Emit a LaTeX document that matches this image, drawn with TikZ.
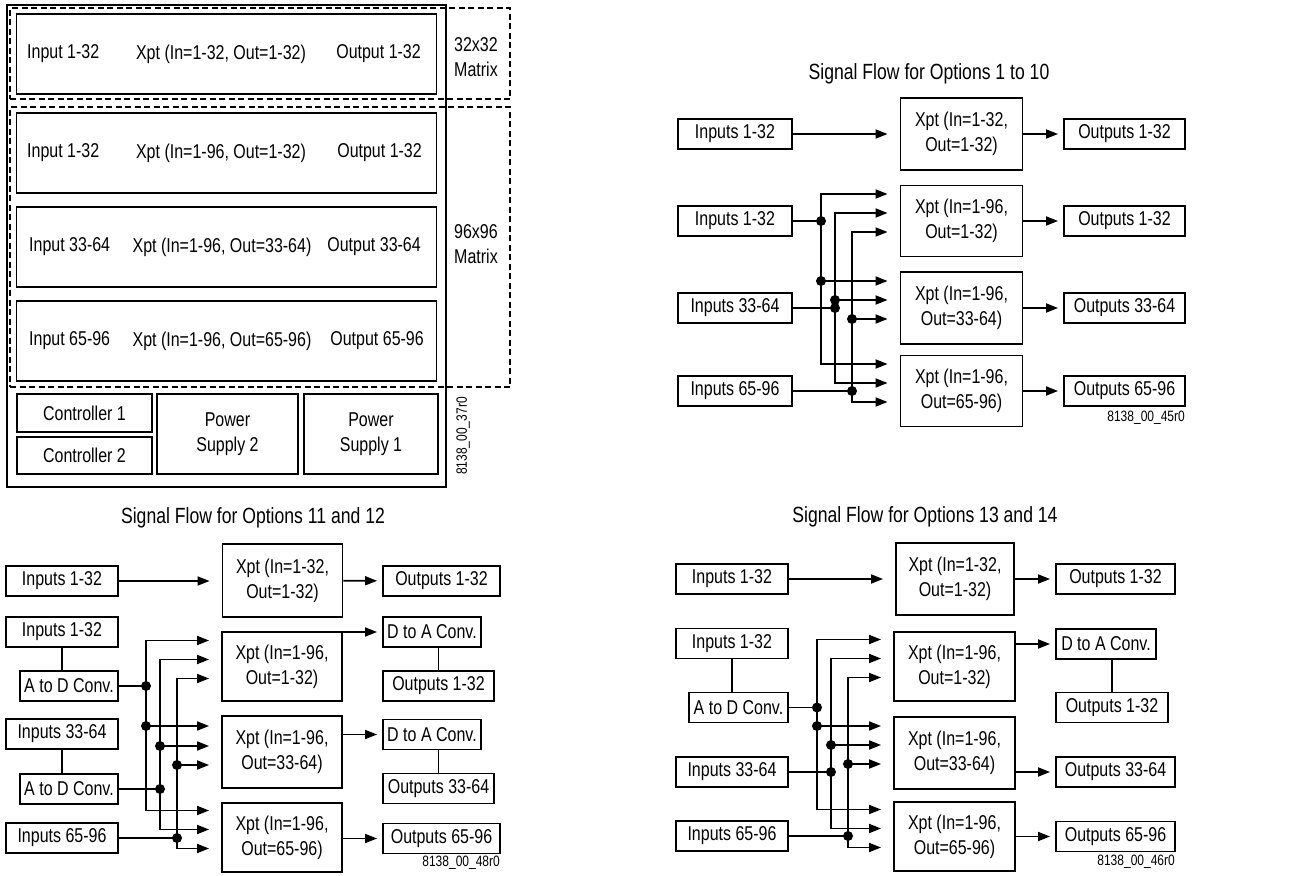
\documentclass[tikz,border=0pt]{standalone}
\usepackage{fontspec}
\setmainfont{Liberation Sans}[FakeStretch=0.8]
\usetikzlibrary{arrows.meta,positioning,calc}
\newcommand{\boxfont}{\fontsize{20}{25}\selectfont}
\newcommand{\headfont}{\fontsize{22}{26}\selectfont}
\newcommand{\tagfont}{\fontsize{15}{18}\selectfont}

\begin{document}
\begin{tikzpicture}[
    x=1pt, y=-1pt,
    box/.style={rectangle, draw, line width=1.9pt, inner sep=0pt, align=center, font=\boxfont},
    card/.style={box, minimum width=420pt, minimum height=80pt},
    inbox/.style={box, minimum width=113pt, minimum height=30pt},
    xbox/.style={box, minimum width=120pt, minimum height=71pt},
    outbox/.style={box, minimum width=119pt, minimum height=30pt},
    convbox/.style={box, minimum width=98pt, minimum height=30pt},
    zone/.style={rectangle, draw, line width=1.7pt, dash pattern=on 6pt off 3.5pt},
    txt/.style={font=\boxfont, inner sep=0pt, align=center},
    heading/.style={font=\headfont, inner sep=0pt},
    idtag/.style={font=\tagfont, inner sep=0pt},
    wire/.style={line width=1.8pt},
    feed/.style={line width=1.4pt},
    arrow/.style={wire, -{Triangle[length=12pt, width=9pt]}},
    tap/.style={arrow, shorten >=12pt},
    toout/.style={arrow, shorten >=5pt},
    jdot/.style={circle, fill, inner sep=0pt, minimum size=10pt}
]
\useasboundingbox (0,0) rectangle (1294,876);

% frame layout
\node[box, minimum width=439pt, minimum height=482pt] (chassis) at (226.5,246) {};
\node[zone, minimum width=500pt, minimum height=91pt] (zone32) at (260,53.5) {};
\node[zone, minimum width=500pt, minimum height=280pt] (zone96) at (260,247) {};
\node[card] (card1) at (226.5,54) {};
\node[card] (card2) at (226.5,153) {};
\node[card] (card3) at (226.5,247) {};
\node[card] (card4) at (226.5,341) {};
\node[txt, anchor=west] (card1in) at (27,54) {Input 1-32};
\node[txt] (card1x) at (221,54) {Xpt (In=1-32, Out=1-32)};
\node[txt, anchor=east] (card1out) at (421,54) {Output 1-32};
\node[txt, anchor=west] (card2in) at (27,153) {Input 1-32};
\node[txt] (card2x) at (221,153) {Xpt (In=1-96, Out=1-32)};
\node[txt, anchor=east] (card2out) at (422,153) {Output 1-32};
\node[txt, anchor=west] (card3in) at (29,247) {Input 33-64};
\node[txt] (card3x) at (222,247) {Xpt (In=1-96, Out=33-64)};
\node[txt, anchor=east] (card3out) at (421,247) {Output 33-64};
\node[txt, anchor=west] (card4in) at (29,341) {Input 65-96};
\node[txt] (card4x) at (222,341) {Xpt (In=1-96, Out=65-96)};
\node[txt, anchor=east] (card4out) at (424,341) {Output 65-96};
\node[box, minimum width=135pt, minimum height=38pt] (ctrl1) at (84.5,413) {Controller 1};
\node[box, minimum width=135pt, minimum height=37pt] (ctrl2) at (84.5,455.5) {Controller 2};
\node[box, minimum width=141pt, minimum height=80pt] (psu2) at (227.5,434) {Power\\Supply 2};
\node[box, minimum width=134pt, minimum height=80pt] (psu1) at (371,434) {Power\\Supply 1};
\node[txt] (lbl32) at (476,57) {32x32\\Matrix};
\node[txt] (lbl96) at (476,244) {96x96\\Matrix};
\node[idtag, rotate=90] (id37) at (463,436) {8138\_00\_37r0};

% options 1 to 10
\node[heading] (headA) at (929,74) {Signal Flow for Options 1 to 10};
\node[inbox, minimum width=114pt] (inA1) at (735,134) {Inputs 1-32};
\node[inbox, minimum width=114pt] (inA2) at (735,221) {Inputs 1-32};
\node[inbox, minimum width=114pt] (inA3) at (735,308) {Inputs 33-64};
\node[inbox, minimum width=114pt] (inA4) at (735,391) {Inputs 65-96};
\node[xbox, minimum width=122pt, minimum height=72pt] (xA1) at (961.5,134) {Xpt (In=1-32,\\Out=1-32)};
\node[xbox, minimum width=122pt] (xA2) at (961.5,221) {Xpt (In=1-96,\\Out=1-32)};
\node[xbox, minimum width=122pt, minimum height=72pt] (xA3) at (961.5,308) {Xpt (In=1-96,\\Out=33-64)};
\node[xbox, minimum width=122pt] (xA4) at (961.5,391) {Xpt (In=1-96,\\Out=65-96)};
\node[outbox, minimum width=121pt] (outA1) at (1124.5,134) {Outputs 1-32};
\node[outbox, minimum width=121pt] (outA2) at (1124.5,221) {Outputs 1-32};
\node[outbox, minimum width=121pt] (outA3) at (1124.5,308) {Outputs 33-64};
\node[outbox, minimum width=121pt] (outA4) at (1124.5,391) {Outputs 65-96};
\node[idtag, anchor=east] (idA) at (1185,418) {8138\_00\_45r0};
\coordinate (busA1) at (821,0);
\coordinate (busA2) at (835,0);
\coordinate (busA3) at (852,0);
\draw[tap] (inA1.east) -- (xA1.west);
\draw[feed] (inA2.east) -- (inA2 -| busA1);
\draw[feed] (inA3.east) -- (inA3 -| busA2);
\draw[feed] (inA4.east) -- (inA4 -| busA3);
\draw[tap] (inA2 -| busA1) |- ($(xA2.west)+(0,-27)$);
\draw[tap] (inA2 -| busA1) |- ($(xA3.west)+(0,-27)$);
\draw[tap] (inA2 -| busA1) |- ($(xA4.west)+(0,-27)$);
\draw[tap] (inA3 -| busA2) |- ($(xA2.west)+(0,-8)$);
\draw[tap] (inA3 -| busA2) |- ($(xA3.west)+(0,-8)$);
\draw[tap] (inA3 -| busA2) |- ($(xA4.west)+(0,-8)$);
\draw[tap] (inA4 -| busA3) |- ($(xA2.west)+(0,11)$);
\draw[tap] (inA4 -| busA3) |- ($(xA3.west)+(0,11)$);
\draw[tap] (inA4 -| busA3) |- ($(xA4.west)+(0,11)$);
\node[jdot] at (inA2 -| busA1) {};
\node[jdot] at ($(xA3.west -| busA1)+(0,-27)$) {};
\node[jdot] at (inA3 -| busA2) {};
\node[jdot] at ($(xA3.west -| busA2)+(0,-8)$) {};
\node[jdot] at (inA4 -| busA3) {};
\node[jdot] at ($(xA3.west -| busA3)+(0,11)$) {};
\draw[toout] (xA1) -- (outA1);
\draw[toout] (xA2) -- (outA2);
\draw[toout] (xA3) -- (outA3);
\draw[toout] (xA4) -- (outA4);

% options 11 and 12
\node[heading] (headB) at (253,518) {Signal Flow for Options 11 and 12};
\node[inbox, minimum width=112pt] (inB1) at (62,581) {Inputs 1-32};
\node[inbox, minimum width=112pt] (inB2) at (62,632) {Inputs 1-32};
\node[convbox] (adB1) at (69,686) {A to D Conv.};
\node[inbox, minimum width=112pt] (inB3) at (62,734) {Inputs 33-64};
\node[convbox] (adB2) at (69,789) {A to D Conv.};
\node[inbox, minimum width=112pt] (inB4) at (62,838) {Inputs 65-96};
\node[xbox, minimum height=73pt] (xB1) at (282.5,580.5) {Xpt (In=1-32,\\Out=1-32)};
\node[xbox, minimum height=69pt] (xB2) at (282,666.5) {Xpt (In=1-96,\\Out=1-32)};
\node[xbox, minimum height=72pt] (xB3) at (282,752) {Xpt (In=1-96,\\Out=33-64)};
\node[xbox, minimum height=69pt] (xB4) at (282,837.5) {Xpt (In=1-96,\\Out=65-96)};
\node[outbox, minimum width=117pt] (outB1) at (441.5,581) {Outputs 1-32};
\node[convbox] (daB1) at (432,632) {D to A Conv.};
\node[outbox, minimum width=111pt] (outB2) at (438.5,686) {Outputs 1-32};
\node[convbox] (daB2) at (432,734.5) {D to A Conv.};
\node[outbox, minimum width=111pt] (outB3) at (438.5,788.5) {Outputs 33-64};
\node[outbox, minimum width=117pt] (outB4) at (441.5,838.5) {Outputs 65-96};
\node[idtag, anchor=east] (idB) at (500,863) {8138\_00\_48r0};
\coordinate (busB1) at (146,0);
\coordinate (busB2) at (160,0);
\coordinate (busB3) at (177,0);
\draw[wire] (inB2.south) -- (inB2.south |- adB1.north);
\draw[wire] (inB3.south) -- (inB3.south |- adB2.north);
\draw[wire] (outB2.north) -- (outB2.north |- daB1.south);
\draw[wire] (outB3.north) -- (outB3.north |- daB2.south);
\draw[tap] (inB1.east) -- (inB1 -| xB1.west);
\draw[feed] (adB1.east) -- (adB1 -| busB1);
\draw[feed] (adB2.east) -- (adB2 -| busB2);
\draw[feed] (inB4.east) -- (inB4 -| busB3);
\draw[tap] (adB1 -| busB1) |- ($(xB2.west)+(0,-26)$);
\draw[tap] (adB1 -| busB1) |- ($(xB3.west)+(0,-26)$);
\draw[tap] (adB1 -| busB1) |- ($(xB4.west)+(0,-27)$);
\draw[tap] (adB2 -| busB2) |- ($(xB2.west)+(0,-7)$);
\draw[tap] (adB2 -| busB2) |- ($(xB3.west)+(0,-6)$);
\draw[tap] (adB2 -| busB2) |- ($(xB4.west)+(0,-8)$);
\draw[tap] (inB4 -| busB3) |- ($(xB2.west)+(0,12)$);
\draw[tap] (inB4 -| busB3) |- ($(xB3.west)+(0,13)$);
\draw[tap] (inB4 -| busB3) |- ($(xB4.west)+(0,11)$);
\node[jdot] at (adB1 -| busB1) {};
\node[jdot] at ($(xB3.west -| busB1)+(0,-26)$) {};
\node[jdot] at (adB2 -| busB2) {};
\node[jdot] at ($(xB3.west -| busB2)+(0,-6)$) {};
\node[jdot] at (inB4 -| busB3) {};
\node[jdot] at ($(xB3.west -| busB3)+(0,13)$) {};
\draw[toout] (xB1) -- (outB1);
\draw[toout] (xB2.east |- daB1) -- (daB1.west);
\draw[toout] (xB3.east |- daB2) -- (daB2.west);
\draw[toout] (xB4.east |- outB4) -- (outB4.west);

% options 13 and 14
\node[heading] (headC) at (925,517) {Signal Flow for Options 13 and 14};
\node[inbox, minimum width=112pt] (inC1) at (732,579) {Inputs 1-32};
\node[inbox, minimum width=112pt] (inC2) at (732,643.5) {Inputs 1-32};
\node[convbox, minimum width=99pt] (adC1) at (738.5,707.5) {A to D Conv.};
\node[inbox, minimum width=112pt] (inC3) at (732,772) {Inputs 33-64};
\node[inbox, minimum width=112pt] (inC4) at (732,836) {Inputs 65-96};
\node[xbox, minimum width=118pt, minimum height=72pt] (xC1) at (955,579) {Xpt (In=1-32,\\Out=1-32)};
\node[xbox, minimum width=121pt, minimum height=69pt] (xC2) at (954.5,666.5) {Xpt (In=1-96,\\Out=1-32)};
\node[xbox, minimum width=121pt, minimum height=72pt] (xC3) at (954.5,753) {Xpt (In=1-96,\\Out=33-64)};
\node[xbox, minimum width=121pt, minimum height=69pt] (xC4) at (954.5,836.5) {Xpt (In=1-96,\\Out=65-96)};
\node[outbox] (outC1) at (1115.5,579) {Outputs 1-32};
\node[convbox, minimum width=100pt] (daC1) at (1106,644) {D to A Conv.};
\node[outbox, minimum width=112pt] (outC2) at (1112,707.5) {Outputs 1-32};
\node[outbox] (outC3) at (1115.5,772) {Outputs 33-64};
\node[outbox] (outC4) at (1115.5,836.5) {Outputs 65-96};
\node[idtag, anchor=east] (idC) at (1175,862) {8138\_00\_46r0};
\coordinate (busC1) at (817,0);
\coordinate (busC2) at (831,0);
\coordinate (busC3) at (848,0);
\draw[wire] (inC2.south) -- (inC2.south |- adC1.north);
\draw[wire] (outC2.north) -- (outC2.north |- daC1.south);
\draw[tap] (inC1.east) -- (inC1 -| xC1.west);
\draw[feed] (adC1.east) -- (adC1 -| busC1);
\draw[feed] (inC3.east) -- (inC3 -| busC2);
\draw[feed] (inC4.east) -- (inC4 -| busC3);
\draw[tap] (adC1 -| busC1) |- ($(xC2.west)+(0,-27)$);
\draw[tap] (adC1 -| busC1) |- ($(xC3.west)+(0,-27)$);
\draw[tap] (adC1 -| busC1) |- ($(xC4.west)+(0,-27)$);
\draw[tap] (inC3 -| busC2) |- ($(xC2.west)+(0,-8)$);
\draw[tap] (inC3 -| busC2) |- ($(xC3.west)+(0,-8)$);
\draw[tap] (inC3 -| busC2) |- ($(xC4.west)+(0,-8)$);
\draw[tap] (inC4 -| busC3) |- ($(xC2.west)+(0,11)$);
\draw[tap] (inC4 -| busC3) |- ($(xC3.west)+(0,11)$);
\draw[tap] (inC4 -| busC3) |- ($(xC4.west)+(0,11)$);
\node[jdot] at (adC1 -| busC1) {};
\node[jdot] at ($(xC3.west -| busC1)+(0,-27)$) {};
\node[jdot] at (inC3 -| busC2) {};
\node[jdot] at ($(xC3.west -| busC2)+(0,-8)$) {};
\node[jdot] at (inC4 -| busC3) {};
\node[jdot] at ($(xC3.west -| busC3)+(0,11)$) {};
\draw[toout] (xC1) -- (outC1);
\draw[toout] (xC2.east |- daC1) -- (daC1.west);
\draw[toout] (xC3.east |- outC3) -- (outC3.west);
\draw[toout] (xC4.east |- outC4) -- (outC4.west);
\end{tikzpicture}
\end{document}
